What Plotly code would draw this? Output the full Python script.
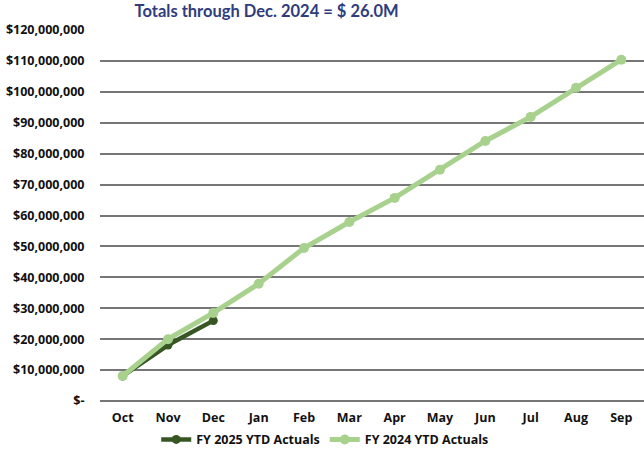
import plotly.graph_objects as go

months = ["Oct", "Nov", "Dec", "Jan", "Feb", "Mar", "Apr", "May", "Jun", "Jul", "Aug", "Sep"]
fy2025 = [8.1e6, 18.1e6, 26.0e6]
fy2024 = [8.1e6, 20.0e6, 28.5e6, 37.9e6, 49.5e6, 57.9e6, 65.7e6, 74.8e6, 84.1e6, 91.9e6, 101.3e6, 110.4e6]
ytick_vals = [i * 10_000_000 for i in range(13)]
ytick_text = ["$-"] + [f"${v:,.0f}" for v in ytick_vals[1:]]

tickfont = dict(family="Open Sans", size=12.5, weight="bold", color="#111111")

fig = go.Figure()
fig.add_trace(go.Scatter(
    x=months[:len(fy2025)], y=fy2025, name="FY 2025 YTD Actuals",
    mode="lines+markers", line=dict(color="#375623", width=4.5),
    marker=dict(size=9, color="#375623"),
))
fig.add_trace(go.Scatter(
    x=months, y=fy2024, name="FY 2024 YTD Actuals",
    mode="lines+markers", line=dict(color="#A9D18E", width=5),
    marker=dict(size=10, color="#A9D18E"),
))

fig.update_layout(
    width=644, height=452,
    margin=dict(l=100, r=0, t=30, b=51, autoexpand=False),
    paper_bgcolor="white", plot_bgcolor="white",
    title=dict(text="<b>Totals through Dec. 2024 = $ 26.0M</b>",
               font=dict(family="Lato, sans-serif", size=16.5, color="#2F3C7E"),
               x=0.414, xanchor="center", xref="container",
               y=0.987, yanchor="top", yref="container",
               pad=dict(t=0, b=0, l=0, r=0), automargin=False),
    showlegend=True,
    legend=dict(orientation="h", xref="container", x=0.505, xanchor="center",
                yref="container", y=0.027, yanchor="middle",
                font=tickfont, traceorder="normal", itemwidth=30),
    font=dict(family="Open Sans", size=12, color="#111111"),
)
fig.update_xaxes(
    type="category", categoryorder="array", categoryarray=months,
    showgrid=False, showline=False, zeroline=False, automargin=False,
    ticks="outside", ticklen=5, tickcolor="rgba(0,0,0,0)",
    tickfont=tickfont, range=[-0.5, 11.5],
)
fig.update_yaxes(
    range=[0, 120_000_000], tickvals=ytick_vals, ticktext=ytick_text,
    showgrid=True, gridcolor="#767676", gridwidth=1.6, automargin=False,
    zeroline=True, zerolinecolor="#767676", zerolinewidth=1.6,
    showline=False, ticks="outside", ticklen=12, tickcolor="rgba(0,0,0,0)",
    tickfont=tickfont,
)
fig.write_html("out.html", config={"displayModeBar": False},
               post_script="document.body.style.margin='0';")
